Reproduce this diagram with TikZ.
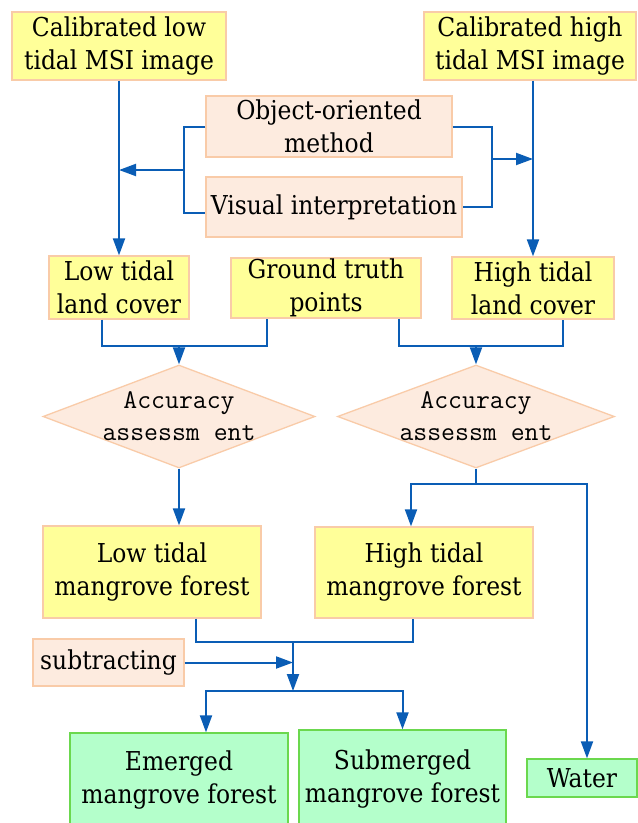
\documentclass[tikz,border=0pt]{standalone}
\usepackage{fontspec}
\setmainfont{DejaVu Serif Condensed}
\usetikzlibrary{arrows.meta,shapes.geometric}
\definecolor{yel}{HTML}{FFFF99}
\definecolor{peach}{HTML}{FDEBDF}
\definecolor{peachline}{HTML}{F9CBA8}
\definecolor{grn}{HTML}{B4FFCB}
\definecolor{grnline}{HTML}{6BD84E}
\definecolor{blu}{HTML}{0A5DB5}
\begin{document}
\begin{tikzpicture}[x=1pt,y=-1pt,
 box/.style={draw=peachline,line width=1.3pt,inner sep=0pt,align=center,font=\fontsize{26}{33}\selectfont},
 ybox/.style={box,fill=yel},
 pbox/.style={box,fill=peach},
 gbox/.style={box,fill=grn,draw=grnline},
 dia/.style={diamond,draw=peachline,fill=peach,line width=1.3pt,inner sep=0pt},
 diatext/.style={align=center,font=\fontsize{27}{32}\ttfamily\selectfont},
 conn/.style={draw=blu,line width=2pt},
 arr/.style={conn,-{Triangle[length=17pt,width=12pt]}}]
\useasboundingbox[fill=white] (0,0) rectangle (638,823);
% nodes
\node[ybox,minimum width=214pt,minimum height=68pt] (callow) at (119,46) {Calibrated low\\tidal MSI image};
\node[ybox,minimum width=212pt,minimum height=68pt] (calhigh) at (530,46) {Calibrated high\\tidal MSI image};
\node[pbox,minimum width=246pt,minimum height=61pt] (obj) at (329,126.5) {Object-oriented\\method};
\node[pbox,minimum width=256pt,minimum height=60pt] (vis) at (334,207) {Visual interpretation};
\node[ybox,minimum width=140pt,minimum height=63pt] (lowlc) at (119,287.5) {Low tidal\\land cover};
\node[ybox,minimum width=190pt,minimum height=60pt] (gt) at (326,288) {Ground truth\\points};
\node[ybox,minimum width=162pt,minimum height=62pt] (highlc) at (533,288) {High tidal\\land cover};
\node[dia,minimum width=272pt,minimum height=103pt] (d1) at (179,416.5) {};
\node[diatext] (d1t) at (d1) {Accuracy\\assessm ent};
\node[dia,minimum width=277pt,minimum height=103pt] (d2) at (476,416.5) {};
\node[diatext] (d2t) at (d2) {Accuracy\\assessm ent};
\node[ybox,minimum width=218pt,minimum height=92pt] (lowmf) at (152,572) {Low tidal\\mangrove forest};
\node[ybox,minimum width=218pt,minimum height=91pt] (highmf) at (424,572.5) {High tidal\\mangrove forest};
\node[pbox,minimum width=151pt,minimum height=47pt] (sub) at (108.5,662.5) {subtracting};
\node[gbox,minimum width=218pt,minimum height=95pt] (emerged) at (179,780.5) {Emerged\\mangrove forest};
\node[gbox,minimum width=207pt,minimum height=98pt] (submerged) at (402.5,779) {Submerged\\mangrove forest};
\node[gbox,minimum width=110pt,minimum height=38pt] (water) at (582,778) {Water};
% connectors
\draw[arr] (callow.south) -- (callow.south |- lowlc.north);
\draw[arr] (highlc.north |- calhigh.south) -- (highlc.north);
\coordinate (lb) at (184,170);
\draw[conn] (obj.west) -| (lb) |- ([yshift=-6pt]vis.west);
\draw[arr] (lb) -- (lb -| callow.south);
\coordinate (rb) at (492,159);
\draw[conn] (obj.east) -| (rb) |- (vis.east);
\draw[arr] (rb) -- (rb -| highlc.north);
\coordinate (m1) at (179,346);
\draw[conn] ([xshift=-17pt]lowlc.south) |- (m1) -| ([xshift=-59pt]gt.south);
\draw[arr] (m1) -- (d1.north);
\coordinate (m2) at (476,346);
\draw[conn] ([xshift=73pt]gt.south) |- (m2) -| ([xshift=30pt]highlc.south);
\draw[arr] (m2) -- (d2.north);
\draw[arr] (d1.south) -- (d1.south |- lowmf.north);
\coordinate (m3) at (476,484);
\draw[conn] (d2.south) -- (m3);
\draw[arr] (m3) -| ([xshift=-13pt]highmf.north);
\draw[arr] (m3) -| ([xshift=5pt]water.north);
\coordinate (m4) at (293,642);
\draw[conn] ([xshift=44pt]lowmf.south) |- (m4) -| ([xshift=-11pt]highmf.south);
\coordinate (m5) at (293,691);
\draw[arr] (m4) -- (m5);
\draw[arr] (sub.east) -- (sub.east -| m4);
\draw[arr] (m5) -| ([xshift=27pt]emerged.north);
\draw[arr] (m5) -| (submerged.north);
\end{tikzpicture}
\end{document}
